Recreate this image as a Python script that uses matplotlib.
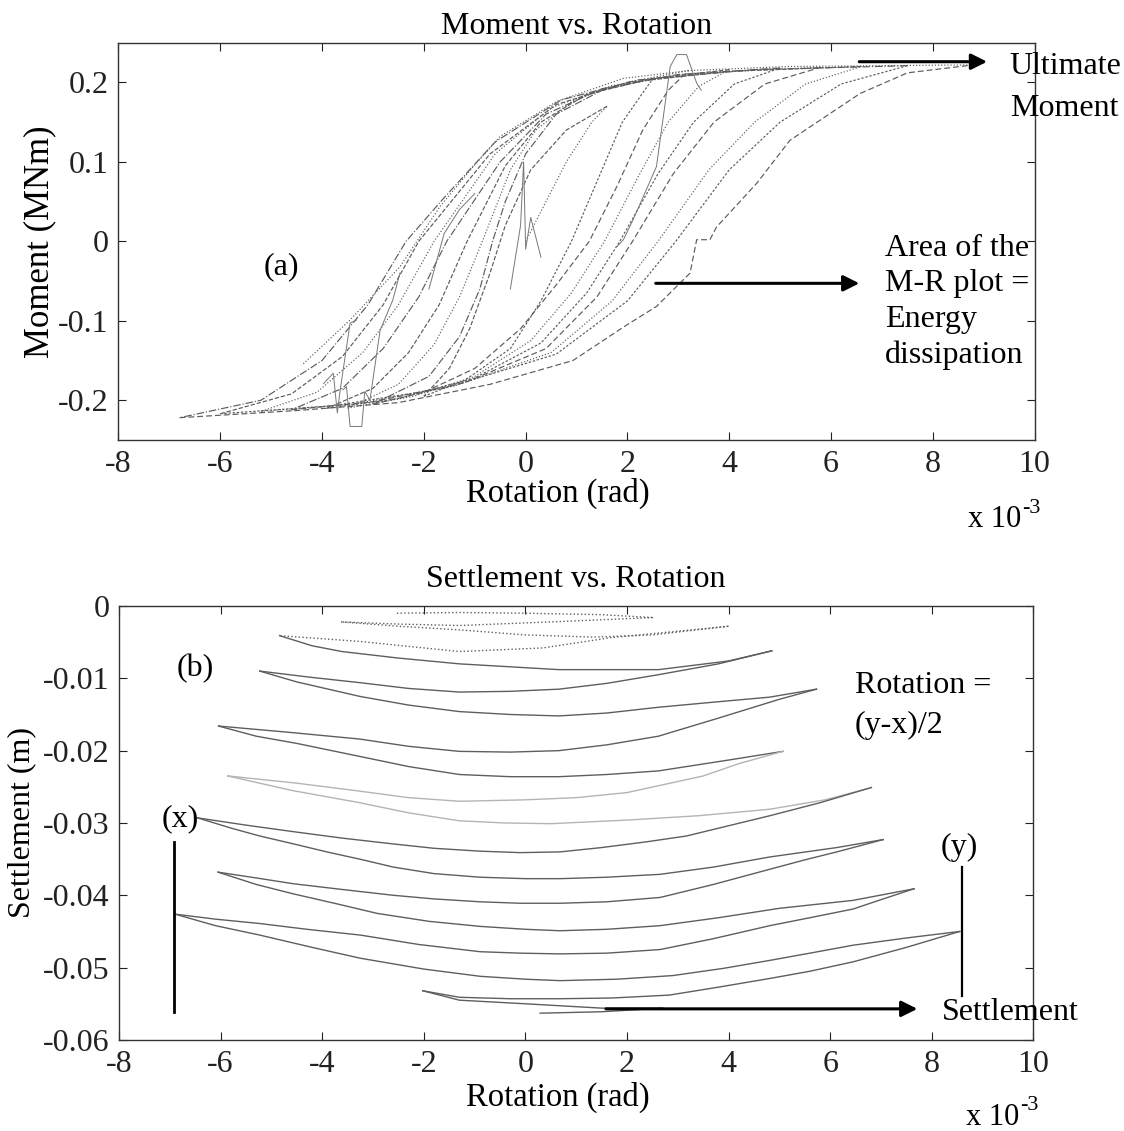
import matplotlib
matplotlib.use("Agg")
import matplotlib.pyplot as plt
from matplotlib.ticker import FuncFormatter

plt.rcParams['font.family'] = ['Liberation Serif', 'DejaVu Serif']
plt.rcParams['axes.unicode_minus'] = False

# ---- moment vs rotation: half-cycle branches (rotation in 1e-3 rad, moment in MNm)
mr_rot = [
    [0.0, 0.4, 0.8, 1.3, 1.6],
    [1.6, 0.8, 0.1, -0.4, -0.7, -1.1, -1.5, -2.0],
    [-2.0, -1.2, -0.3, 0.3, 0.9, 1.4, 1.9, 2.5],
    [2.5, 1.5, 0.6, 0.0, -0.4, -0.65, -0.9, -1.3, -1.9, -3.0],
    [-3.0, -2.0, -1.0, -0.1, 0.6, 1.25, 1.8, 2.3, 2.8, 3.2],
    [3.2, 2.0, 1.0, 0.2, -0.3, -0.85, -1.3, -1.8, -2.5, -3.5],
    [-3.5, -2.2, -1.0, 0.1, 0.9, 1.55, 2.2, 2.8, 3.4, 4.0],
    [4.0, 2.5, 1.2, 0.3, -0.4, -1.15, -1.7, -2.3, -3.0, -3.9],
    [-3.9, -2.5, -1.0, 0.3, 1.2, 1.85, 2.6, 3.3, 4.1, 5.0],
    [5.0, 3.0, 1.5, 0.4, -0.5, -1.55, -2.1, -2.8, -3.6, -4.6],
    [-4.6, -3.0, -1.2, 0.4, 1.4, 2.1, 2.9, 3.7, 4.7, 5.8],
    [5.8, 3.5, 1.7, 0.5, -0.6, -1.8, -2.5, -3.2, -4.1, -5.2],
    [-5.2, -3.4, -1.4, 0.5, 1.7, 2.6, 3.6, 4.5, 5.5, 6.6],
    [6.6, 4.0, 2.0, 0.6, -0.7, -2.1, -2.8, -3.6, -4.6, -6.0],
    [-6.0, -3.8, -1.6, 0.6, 2.0, 2.95, 4.0, 5.0, 6.2, 7.5],
    [7.5, 4.5, 2.2, 0.7, -0.6, -1.6, -2.35, -3.1, -4.0, -5.2, -6.8],
    [-6.8, -4.5, -2.5, -0.7, 0.93, 1.92, 2.57, 3.23, 3.36, 3.62, 3.75, 4.54, 5.19, 6.57, 7.5, 8.8],
    [8.8, 5.19, 3.23, 1.92, 0.61, -0.5, -1.03, -1.68, -2.47, -3.45, -4.4],
]
mr_mom = [
    [0.0, 0.05, 0.10, 0.15, 0.17],
    [0.17, 0.14, 0.09, 0.02, -0.04, -0.11, -0.16, -0.195],
    [-0.195, -0.175, -0.135, -0.075, 0.0, 0.075, 0.150, 0.205],
    [0.205, 0.190, 0.160, 0.110, 0.050, 0.0, -0.060, -0.120, -0.170, -0.205],
    [-0.205, -0.190, -0.160, -0.110, -0.055, 0.0, 0.070, 0.140, 0.190, 0.215],
    [0.215, 0.200, 0.180, 0.140, 0.090, 0.0, -0.070, -0.130, -0.180, -0.210],
    [-0.210, -0.195, -0.170, -0.125, -0.065, 0.0, 0.080, 0.150, 0.195, 0.216],
    [0.216, 0.205, 0.185, 0.150, 0.095, 0.0, -0.080, -0.140, -0.185, -0.210],
    [-0.210, -0.198, -0.172, -0.128, -0.065, 0.0, 0.085, 0.150, 0.198, 0.218],
    [0.218, 0.210, 0.192, 0.160, 0.100, 0.0, -0.070, -0.135, -0.185, -0.212],
    [-0.212, -0.202, -0.178, -0.135, -0.070, 0.0, 0.085, 0.150, 0.198, 0.219],
    [0.219, 0.212, 0.196, 0.168, 0.110, 0.0, -0.080, -0.140, -0.190, -0.214],
    [-0.214, -0.205, -0.182, -0.140, -0.075, 0.0, 0.090, 0.150, 0.198, 0.220],
    [0.220, 0.214, 0.200, 0.172, 0.110, 0.0, -0.080, -0.145, -0.192, -0.217],
    [-0.217, -0.207, -0.185, -0.142, -0.075, 0.0, 0.090, 0.150, 0.198, 0.221],
    [0.221, 0.216, 0.203, 0.178, 0.125, 0.055, 0.0, -0.080, -0.150, -0.200, -0.222],
    [-0.222, -0.213, -0.203, -0.180, -0.150, -0.108, -0.082, -0.040, 0.002, 0.002, 0.018, 0.073, 0.127, 0.186, 0.212, 0.222],
    [0.222, 0.220, 0.215, 0.205, 0.176, 0.132, 0.094, 0.044, -0.032, -0.099, -0.156],
]

# sudden jumps recorded as thin solid traces
jump_rot = [
    [1.79, 1.92, 2.11, 2.57, 2.84, 2.97, 3.16, 3.36, 3.45],
    [-3.97, -3.78, -3.70, -3.65, -3.45, -3.32],
    [-3.59, -3.52, -3.45, -3.22, -3.16, -3.06, -2.86, -2.61, -2.47],
    [-1.9, -1.6, -1.3, -1.0],
    [-0.3, -0.1, -0.04, 0.0, 0.1, 0.3],
]
jump_mom = [
    [-0.007, 0.002, 0.027, 0.094, 0.220, 0.235, 0.235, 0.199, 0.190],
    [-0.179, -0.166, -0.216, -0.190, -0.103, -0.099],
    [-0.187, -0.183, -0.233, -0.233, -0.189, -0.200, -0.112, -0.074, -0.040],
    [-0.060, 0.010, 0.040, 0.060],
    [-0.060, 0.020, 0.100, -0.010, 0.030, -0.020],
]

# ---- settlement vs rotation: half-cycle branches (rotation in 1e-3 rad, settlement in m)
st_rot = [
    [-2.53, -1.3, 0.0, 1.5, 2.51],
    [2.51, 0.5, -1.3, -2.5, -3.63],
    [-3.63, -2.5, -1.3, 0.0, 1.33, 2.5, 4.0],
    [4.0, 1.66, 0.34, -1.3, -3.26, -4.84],
    [-4.84, -4.2, -3.61, -2.5, -1.3, 0.66, 2.62, 4.0, 4.85],
    [4.85, 3.8, 2.62, 1.6, 0.66, -0.3, -1.3, -2.3, -3.26, -4.3, -5.23],
    [-5.23, -4.5, -3.26, -2.3, -1.3, -0.3, 0.66, 1.6, 2.62, 3.7, 4.81, 5.73],
    [5.73, 5.0, 3.8, 2.62, 1.6, 0.66, -0.3, -1.3, -2.3, -3.26, -4.6, -6.04],
    [-6.04, -5.3, -4.5, -3.26, -2.3, -1.3, -0.3, 0.66, 1.6, 2.62, 4.0, 5.07],
    [5.07, 4.2, 3.5, 2.0, 1.0, 0.0, -1.3, -2.3, -3.26, -4.5, -5.86],
    [-5.86, -4.6, -3.26, -2.3, -1.3, -0.4, 0.5, 2.0, 3.4, 4.81, 5.9, 6.81],
    [6.81, 5.8, 4.81, 3.17, 2.39, 1.5, 0.68, -0.1, -0.89, -1.8, -2.60, -3.6, -4.57, -5.5, -6.45],
    [-6.45, -5.8, -5.23, -4.5, -3.91, -3.2, -2.60, -1.8, -0.89, 0.0, 0.68, 1.6, 2.65, 3.7, 4.81, 6.13, 7.04],
    [7.04, 6.13, 5.5, 4.81, 3.7, 2.65, 1.6, 0.68, -0.1, -0.89, -1.8, -2.60, -3.6, -4.57, -5.3, -6.05],
    [-6.05, -5.3, -4.57, -3.7, -2.92, -1.9, -0.89, 0.0, 0.68, 1.6, 2.65, 3.8, 5.0, 6.45, 7.65],
    [7.65, 7.0, 6.45, 5.6, 4.81, 3.7, 2.65, 1.6, 0.68, -0.1, -0.89, -2.1, -3.25, -4.3, -5.23, -6.1, -6.9],
    [-6.9, -6.1, -5.23, -4.2, -3.25, -2.0, -0.89, 0.0, 0.68, 1.8, 2.9, 3.9, 4.81, 5.6, 6.45, 7.5, 8.55],
    [8.55, 7.5, 6.45, 5.6, 4.81, 3.8, 2.83, 1.7, 0.68, -0.3, -1.3, -2.02],
    [-2.02, -1.3, 0.0, 1.5, 2.7],
    [2.7, 1.5, 0.29],
]
st_set = [
    [-0.0010, -0.0009, -0.0010, -0.0012, -0.0016],
    [-0.0016, -0.0022, -0.0027, -0.0025, -0.0022],
    [-0.0022, -0.0028, -0.0033, -0.0040, -0.0043, -0.0040, -0.0028],
    [-0.0028, -0.0044, -0.0058, -0.0063, -0.0049, -0.0041],
    [-0.0041, -0.0055, -0.0063, -0.0072, -0.0080, -0.0088, -0.0088, -0.0076, -0.0062],
    [-0.0062, -0.0080, -0.0095, -0.0107, -0.0115, -0.0118, -0.0119, -0.0114, -0.0106, -0.0098, -0.0090],
    [-0.0090, -0.0105, -0.0125, -0.0137, -0.0146, -0.0150, -0.0152, -0.0148, -0.0140, -0.0133, -0.0126, -0.0115],
    [-0.0115, -0.0129, -0.0155, -0.0180, -0.0192, -0.0200, -0.0202, -0.0201, -0.0194, -0.0184, -0.0175, -0.0166],
    [-0.0166, -0.0180, -0.0190, -0.0208, -0.0222, -0.0233, -0.0236, -0.0236, -0.0233, -0.0228, -0.0213, -0.0201],
    [-0.0201, -0.0218, -0.0235, -0.0258, -0.0265, -0.0268, -0.0270, -0.0265, -0.0256, -0.0245, -0.0235],
    [-0.0235, -0.0255, -0.0272, -0.0286, -0.0297, -0.0300, -0.0301, -0.0296, -0.0290, -0.0281, -0.0268, -0.0251],
    [-0.0251, -0.0272, -0.0290, -0.0318, -0.0326, -0.0334, -0.0340, -0.0341, -0.0339, -0.0335, -0.0329, -0.0321, -0.0312, -0.0303, -0.0293],
    [-0.0293, -0.0307, -0.0318, -0.0330, -0.0340, -0.0351, -0.0361, -0.0370, -0.0375, -0.0377, -0.0377, -0.0375, -0.0371, -0.0361, -0.0347, -0.0334, -0.0323],
    [-0.0323, -0.0340, -0.0351, -0.0364, -0.0385, -0.0403, -0.0409, -0.0411, -0.0411, -0.0409, -0.0405, -0.0400, -0.0392, -0.0384, -0.0376, -0.0368],
    [-0.0368, -0.0385, -0.0398, -0.0412, -0.0425, -0.0436, -0.0443, -0.0447, -0.0449, -0.0447, -0.0442, -0.0431, -0.0418, -0.0407, -0.0391],
    [-0.0391, -0.0406, -0.0419, -0.0431, -0.0442, -0.0460, -0.0475, -0.0480, -0.0481, -0.0480, -0.0478, -0.0468, -0.0455, -0.0447, -0.0439, -0.0433, -0.0426],
    [-0.0426, -0.0442, -0.0455, -0.0472, -0.0487, -0.0502, -0.0512, -0.0516, -0.0518, -0.0516, -0.0511, -0.0501, -0.0490, -0.0480, -0.0469, -0.0459, -0.0450],
    [-0.0450, -0.0472, -0.0492, -0.0505, -0.0515, -0.0527, -0.0538, -0.0542, -0.0543, -0.0543, -0.0541, -0.0532],
    [-0.0532, -0.0545, -0.0550, -0.0556, -0.0556],
    [-0.0556, -0.0561, -0.0563],
]

x_ticks = [-8, -6, -4, -2, 0, 2, 4, 6, 8, 10]
m_ticks = [-0.2, -0.1, 0, 0.1, 0.2]
s_ticks = [-0.06, -0.05, -0.04, -0.03, -0.02, -0.01, 0]

FS = 23
fig = plt.figure(figsize=(11.24, 11.31), dpi=100)
ax1 = fig.add_axes([0.1054, 0.6110, 0.8151, 0.3513])
ax2 = fig.add_axes([0.1059, 0.0805, 0.8135, 0.3837])

fmt = FuncFormatter(lambda v, p: '%g' % round(v, 4))


def scale_note(ax, y):
    # "x 10" with a raised exponent, written as plain text under the last tick
    ax.text(0.985, y, 'x 10', transform=ax.transAxes, fontsize=FS - 1,
            ha='right', va='center')
    ax.text(0.986, y + 0.028, '-3', transform=ax.transAxes, fontsize=FS - 7,
            ha='left', va='center')


for ax in (ax1, ax2):
    ax.tick_params(direction='in', top=True, right=True, length=6, width=0.8,
                   labelsize=FS, pad=7, colors='#222222')
    for s in ax.spines.values():
        s.set_color('#333333')
        s.set_linewidth(1.0)
    ax.set_xticks(x_ticks)
    ax.set_xlim(-8, 10)
    ax.yaxis.set_major_formatter(fmt)
    ax.set_xlabel('Rotation (rad)', fontsize=FS + 0.5)

# top panel
styles = [':', '--', (0, (2, 1.5)), '-.', (0, (5, 2.5)), ':']
for i, (r, m) in enumerate(zip(mr_rot, mr_mom)):
    ax1.plot(r, m, ls=styles[i % len(styles)], color='#5c5c5c', lw=0.85)
for r, m in zip(jump_rot, jump_mom):
    ax1.plot(r, m, ls='-', color='#777777', lw=0.7)
ax1.set_ylim(-0.25, 0.25)
ax1.set_yticks(m_ticks)
ax1.set_ylabel('Moment (MNm)', fontsize=FS + 2)
ax1.yaxis.set_label_coords(-0.068, 0.5)
ax1.xaxis.set_label_coords(0.48, -0.095)
ax1.set_title('Moment vs. Rotation', fontsize=FS, pad=6)
ax1.text(-4.79, -0.032, '(a)', fontsize=FS, ha='center', va='center')
ax1.annotate('', xy=(9.12, 0.226), xytext=(6.5, 0.226),
             arrowprops=dict(arrowstyle='-|>', color='black', lw=2.2, mutation_scale=24),
             annotation_clip=False)
ax1.text(9.51, 0.1935, 'Ultimate\nMoment', fontsize=FS, ha='left', va='center',
         linespacing=1.55, clip_on=False)
ax1.annotate('', xy=(6.61, -0.0529), xytext=(2.5, -0.0529),
             arrowprops=dict(arrowstyle='-|>', color='black', lw=2.2, mutation_scale=24))
ax1.text(7.06, -0.0764, 'Area of the\nM-R plot =\nEnergy\ndissipation', fontsize=FS,
         ha='left', va='center', linespacing=1.3)
scale_note(ax1, -0.20)

# bottom panel
for i, (r, s) in enumerate(zip(st_rot, st_set)):
    col = '#b4b4b4' if i in (9, 10) else '#5e5e5e'
    ls = ':' if i < 4 else '-'
    ax2.plot(r, s, ls=ls, color=col, lw=1.0)
ax2.set_ylim(-0.06, 0)
ax2.set_yticks(s_ticks)
ax2.set_ylabel('Settlement (m)', fontsize=FS)
ax2.yaxis.set_label_coords(-0.091, 0.5)
ax2.xaxis.set_label_coords(0.48, -0.097)
ax2.set_title('Settlement vs. Rotation', fontsize=FS, pad=14)
ax2.text(-6.49, -0.0086, '(b)', fontsize=FS, ha='center', va='center')
ax2.text(6.49, -0.0137, 'Rotation =\n(y-x)/2', fontsize=FS, ha='left', va='center',
         linespacing=1.5)
ax2.text(-6.80, -0.0294, '(x)', fontsize=FS, ha='center', va='center')
ax2.plot([-6.92, -6.92], [-0.0326, -0.0561], color='black', lw=2)
ax2.text(8.55, -0.0334, '(y)', fontsize=FS, ha='center', va='center')
ax2.plot([8.59, 8.59], [-0.0361, -0.0539], color='black', lw=1.6)
ax2.text(8.20, -0.0562, 'Settlement', fontsize=FS, ha='left', va='center', clip_on=False)
ax2.annotate('', xy=(7.77, -0.0557), xytext=(1.53, -0.0557),
             arrowprops=dict(arrowstyle='-|>', color='black', lw=2.2, mutation_scale=24))
scale_note(ax2, -0.178)

fig.savefig('out.png', dpi=100, facecolor='white')
